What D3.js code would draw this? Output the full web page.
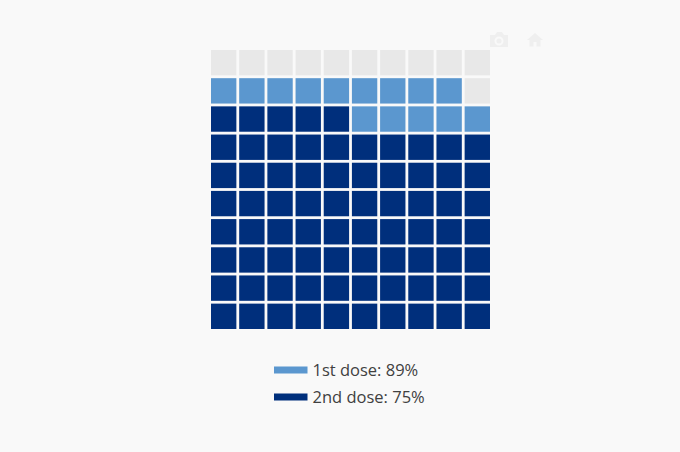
<!DOCTYPE html>
<html>
<head>
<meta charset="utf-8">
<script src="https://cdn.jsdelivr.net/npm/d3@7"></script>
<style>
  html, body { margin: 0; padding: 0; background: #f9f9f9; }
  svg { display: block; }
  text { font-family: "Open Sans", sans-serif; }
</style>
</head>
<body>
<svg id="chart" width="680" height="452"></svg>
<script>
// Data
const doseLabels = ["1st dose", "2nd dose"];
const doseValues = [89, 75];
const totalCells = 100;
const gridIndex = [0, 1, 2, 3, 4, 5, 6, 7, 8, 9];

const colors = { first: "#5b97cf", second: "#002f7c", empty: "#e8e8e8" };

const svg = d3.select("#chart");

const x = d3.scaleBand().domain(gridIndex).range([209.6, 491.4]).paddingInner(0.1).paddingOuter(0.05);
const y = d3.scaleBand().domain(gridIndex).range([48.6, 330.4]).paddingInner(0.1).paddingOuter(0.05);

// cells fill from bottom left, row by row
const cells = d3.range(totalCells).map(i => ({
  n: i + 1,
  col: i % 10,
  row: 9 - Math.floor(i / 10)
}));

const cellColor = n => n <= doseValues[1] ? colors.second
  : n <= doseValues[0] ? colors.first
  : colors.empty;

svg.append("g").selectAll("rect")
  .data(cells)
  .join("rect")
  .attr("x", d => x(d.col))
  .attr("y", d => y(d.row))
  .attr("width", x.bandwidth())
  .attr("height", y.bandwidth())
  .attr("fill", d => cellColor(d.n));

// Legend
const legendY = d3.scalePoint().domain(doseLabels).range([370, 397]);
const legendColor = d3.scaleOrdinal().domain(doseLabels).range([colors.first, colors.second]);

const legend = svg.append("g").selectAll("g")
  .data(doseLabels)
  .join("g")
  .attr("transform", d => `translate(0,${legendY(d)})`);

legend.append("line")
  .attr("x1", 274)
  .attr("x2", 307.5)
  .attr("stroke", d => legendColor(d))
  .attr("stroke-width", 7);

legend.append("text")
  .attr("x", 312.5)
  .attr("dy", "0.35em")
  .attr("fill", "#404040")
  .style("font-size", "16.5px")
  .text((d, i) => `${d}: ${doseValues[i]}%`);

// Toolbar icons, barely visible
const icons = svg.append("g").attr("fill", "#efefef");

const camera = icons.append("g").attr("transform", "translate(499,40)");
camera.append("path")
  .attr("fill-rule", "evenodd")
  .attr("d", "M-9,-5 H-4 L-2,-8 H3 L5,-5 H9 V7 H-9 Z M0,-3.5 A4.5,4.5 0 1,0 0,5.5 A4.5,4.5 0 1,0 0,-3.5 Z M0,-1.5 A2.5,2.5 0 1,1 0,3.5 A2.5,2.5 0 1,1 0,-1.5 Z");

const home = icons.append("g").attr("transform", "translate(535,40)");
home.append("path")
  .attr("d", "M0,-7 L8,0 H5.5 V6.5 H1.5 V2 H-1.5 V6.5 H-5.5 V0 H-8 Z");
</script>
</body>
</html>
